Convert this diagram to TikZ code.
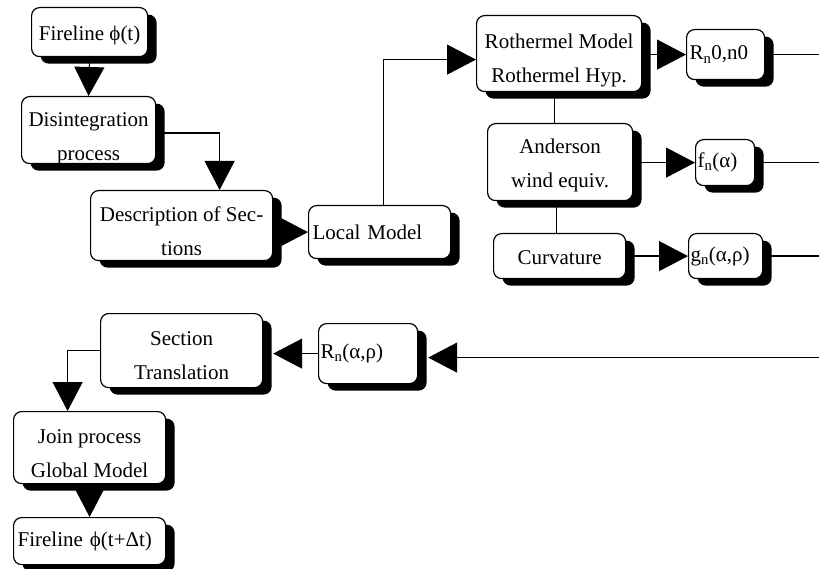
\documentclass[tikz,border=0pt]{standalone}
\usepackage{fontspec}
\setmainfont{Liberation Serif}
\usetikzlibrary{arrows.meta,shadows,backgrounds,positioning}
% a text line set lower in its box, keeping the box size
\newcommand{\lowln}[2][6pt]{\raisebox{-#1}[\height][\depth]{#2}}
\tikzset{
  block/.style={ % rounded box with a solid black shadow
    draw, line width=1.2pt, rounded corners=8pt, fill=white,
    inner sep=0pt, align=center, anchor=north west,
    drop shadow={shadow xshift=9pt, shadow yshift=-7pt, fill=black, opacity=1}
  },
  tag/.style={ % small box, text on the left
    block, align=left
  },
  flow/.style={line width=1.2pt, -{Triangle[length=29pt,width=30pt]}},
  link/.style={line width=1.2pt}
}

\begin{document}
\begin{tikzpicture}[x=1pt, y=-1pt, font=\fontsize{21pt}{34pt}\selectfont]
  \useasboundingbox (0,0) rectangle (819,569);

  % left column
  \node[block, minimum width=116pt, minimum height=49pt] (fire) at (31,7) {\lowln[3pt]{Fireline ϕ(t)}};
  \node[block, minimum width=134pt, minimum height=67pt] (disint) at (21,96) {\lowln[9pt]{Disintegration}\\\lowln[9pt]{process}};
  \node[block, minimum width=182pt, minimum height=70pt] (desc) at (90,190) {\lowln[6pt]{Description of Sec-}\\\lowln[6pt]{tions}};
  \node[tag, minimum width=142pt, minimum height=53pt, text width=134pt] (local) at (308,205) {Local Model};

  % models
  \node[block, minimum width=165pt, minimum height=76pt] (roth) at (476,15) {\lowln[7pt]{Rothermel Model}\\\lowln[7pt]{Rothermel Hyp.}};
  \node[block, minimum width=145pt, minimum height=77pt] (anders) at (487,123) {\lowln[3pt]{Anderson}\\\lowln[3pt]{wind equiv.}};
  \node[block, minimum width=132pt, minimum height=45pt] (curv) at (493,233) {\lowln[2pt]{Curvature}};
  \node[tag, minimum width=78pt, minimum height=50pt, text width=72pt] (rn0) at (686,29) {R\textsubscript{n}0,n0};
  \node[tag, minimum width=59pt, minimum height=46pt, text width=55pt] (fn) at (695,139) {f\textsubscript{n}(α)};
  \node[tag, minimum width=74pt, minimum height=45pt, text width=70pt] (gn) at (688,233) {g\textsubscript{n}(α,ρ)};

  % way back
  \node[tag, minimum width=99pt, minimum height=60pt, text width=95pt] (rn) at (318,323) {R\textsubscript{n}(α,ρ)};
  \node[block, minimum width=162pt, minimum height=74pt] (sect) at (100,313) {\lowln[5pt]{Section}\\\lowln[5pt]{Translation}};
  \node[block, minimum width=152pt, minimum height=72pt] (join) at (13,411) {\lowln[6pt]{Join process}\\\lowln[6pt]{Global Model}};
  \node[tag, minimum width=152pt, minimum height=47pt, text width=144pt] (fire2) at (13,517) {Fireline ϕ(t+Δt)};

  \coordinate (edge) at (819,0);

  \begin{scope}[on background layer]
    \draw[flow] (fire.south) -- (disint.north);
    \draw[flow] ([yshift=-3pt]disint.east) -| ([xshift=38pt]desc.north);
    \draw[flow] (desc.east |- local.west) -- (local.west);
    \draw[flow] ([xshift=4pt]local.north) |- ([yshift=-6pt]roth.west);
    \draw[flow] (roth.east |- rn0.west) -- (rn0.west);
    \draw[flow] (anders.east |- fn.west) -- (fn.west);
    \draw[flow] (curv.east |- gn.west) -- (gn.west);
    \draw[link] ([xshift=-5pt]roth.south) -- ([xshift=-5pt]roth.south |- anders.north);
    \draw[link] ([xshift=-4pt]anders.south) -- ([xshift=-4pt]anders.south |- curv.north);
    \draw[link] (rn0.east) -- (rn0.east -| edge);
    \draw[link] (fn.east) -- (fn.east -| edge);
    \draw[link] (gn.east) -- (gn.east -| edge);
    \draw[flow, shorten >=10pt] ([yshift=-4pt]rn.east -| edge) -- ([yshift=-4pt]rn.east);
    \draw[flow, shorten >=10pt] (rn.west) -- (rn.west -| sect.east);
    \draw[flow] (sect.west) -| ([xshift=-22pt]join.north);
    \draw[flow] (join.south) -- (fire2.north);
  \end{scope}
\end{tikzpicture}
\end{document}
